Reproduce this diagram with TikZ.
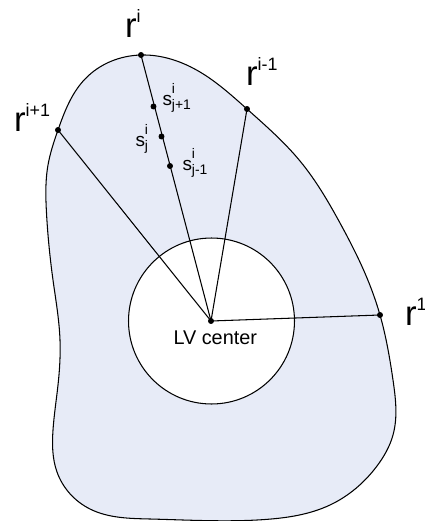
\documentclass[tikz,border=0pt]{standalone}
\usepackage{fontspec}
\setmainfont{Liberation Sans}
\usetikzlibrary{hobby}
\definecolor{wallfill}{RGB}{231,235,247}
\newcommand{\rlab}[1]{{\fontsize{19.8}{20}\selectfont r\raisebox{8.5pt}{\fontsize{10.2}{11}\selectfont #1}}}
\newcommand{\slab}[1]{{\fontsize{10.8}{12}\selectfont s\rlap{\raisebox{6.8pt}{\fontsize{7.9}{9}\selectfont i}}\raisebox{-2.3pt}{\fontsize{7.9}{9}\selectfont #1}}}
\tikzset{
  edge/.style={line width=0.6pt, black},
  lab/.style={anchor=base west, inner sep=0pt, outer sep=0pt}
}
\begin{document}
\begin{tikzpicture}[x=0.02cm,y=-0.02cm]
\useasboundingbox (0,0) rectangle (425,521);
% outer wall
\draw[edge, fill=wallfill, use Hobby shortcut, closed=true]
 (141,55) .. (200,72) .. (247,109) .. (300,161) .. (340,223) .. (367,278) .. (380,315)
 .. (393,380) .. (393,435) .. (377,466) .. (330,505) .. (265,519.5) .. (150,519)
 .. (90,509) .. (57,472) .. (53,430) .. (58,385) .. (60,340) .. (53,280) .. (46.5,213)
 .. (48,165) .. (58,130) .. (85,79);
% inner circle
\draw[edge, fill=white] (211.5,321) circle [radius=1.66cm];
% points
\coordinate (c) at (211,321);
\coordinate (ri) at (141,55);
\coordinate (rim) at (247,109);
\coordinate (rip) at (58,130);
\coordinate (r1) at (380,315);
\coordinate (sp) at (153.5,106.5);
\coordinate (sj) at (161.5,136.5);
\coordinate (sm) at (170,166);
\draw[edge] (c) -- (ri);
\draw[edge] (c) -- (rim);
\draw[edge] (c) -- (rip);
\draw[edge] (c) -- (r1);
\foreach \p in {c,ri,rim,rip,r1,sp,sj,sm} \fill[black] (\p) circle [radius=1.7pt];
% labels
\node[lab] (Lri) at (125,37) {\rlab{i}};
\node[lab] (Lrip) at (14,131.5) {\rlab{i+1}};
\node[lab] (Lrim) at (246,85) {\rlab{i-1}};
\node[lab] (Lr1) at (405,325) {\rlab{1}};
\node[lab] (Lsp) at (162.5,105) {\slab{j+1}};
\node[lab] (Lsj) at (135.5,146) {\slab{j}};
\node[lab] (Lsm) at (182.5,170) {\slab{j-1}};
\node[lab] (Llv) at (173.5,344) {\fontsize{11.3}{13}\selectfont LV center};
\end{tikzpicture}
\end{document}
